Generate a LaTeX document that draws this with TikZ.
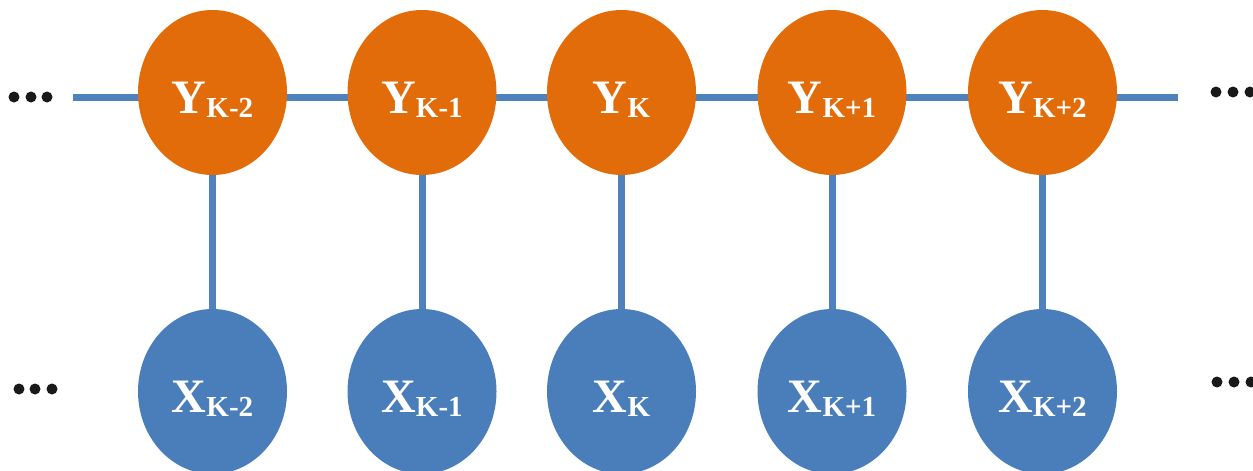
\documentclass[tikz,border=0pt]{standalone}
\usepackage{fontspec}
\setmainfont{Liberation Serif}
\usetikzlibrary{shapes.geometric,calc}
\pgfdeclarelayer{bg}
\pgfsetlayers{bg,main}
\definecolor{yorange}{HTML}{E36C0A}
\definecolor{xblue}{HTML}{4A7EBB}
\definecolor{lineblue}{HTML}{4F81BD}
\newcommand{\lab}[2]{{\fontsize{48}{48}\selectfont\bfseries #1}\raisebox{-4.5pt}{\fontsize{29}{29}\selectfont\bfseries #2}}
\begin{document}
\begin{tikzpicture}[x=1pt,y=-1pt,
  ynode/.style={ellipse,fill=yorange,minimum width=149pt,minimum height=165pt,inner sep=0pt},
  xnode/.style={ellipse,fill=xblue,minimum width=149pt,minimum height=165pt,inner sep=0pt},
  lbl/.style={anchor=base,text=white,inner sep=0pt},
  conn/.style={draw=lineblue,line width=7pt},
  dotc/.style={fill=black!90}]
\useasboundingbox (0,0) rectangle (1253,471);
\foreach \i/\cx in {1/212.5,2/422,3/621.5,4/832,5/1042.5}{
  \node[ynode] (y\i) at (\cx,92.5) {};
  \node[xnode] (x\i) at (\cx,391.5) {};
}
\coordinate (lstart) at (73,97);
\coordinate (lend) at (1178,97);
\begin{pgfonlayer}{bg}
\draw[conn] (lstart) -- (lstart -| y1);
\draw[conn] (lstart -| y1) -- (lstart -| y2);
\draw[conn] (lstart -| y2) -- (lstart -| y3);
\draw[conn] (lstart -| y3) -- (lstart -| y4);
\draw[conn] (lstart -| y4) -- (lstart -| y5);
\draw[conn] (lstart -| y5) -- (lend);
\foreach \i in {1,...,5}{ \draw[conn] (y\i.center) -- (x\i.center); }
\end{pgfonlayer}
\node[lbl] (ly1) at ($(y1)+(0,20.5)$) {\lab{Y}{K-2}};
\node[lbl] (ly2) at ($(y2)+(0,20.5)$) {\lab{Y}{K-1}};
\node[lbl] (ly3) at ($(y3)+(0,20.5)$) {\lab{Y}{K}};
\node[lbl] (ly4) at ($(y4)+(0,20.5)$) {\lab{Y}{K+1}};
\node[lbl] (ly5) at ($(y5)+(0,20.5)$) {\lab{Y}{K+2}};
\node[lbl] (lx1) at ($(x1)+(0,20.5)$) {\lab{X}{K-2}};
\node[lbl] (lx2) at ($(x2)+(0,20.5)$) {\lab{X}{K-1}};
\node[lbl] (lx3) at ($(x3)+(0,20.5)$) {\lab{X}{K}};
\node[lbl] (lx4) at ($(x4)+(0,20.5)$) {\lab{X}{K+1}};
\node[lbl] (lx5) at ($(x5)+(0,20.5)$) {\lab{X}{K+2}};
\foreach \dx in {14,31,47}{ \fill[dotc] (\dx,97) circle (5.5); }
\foreach \dx in {19,35,52}{ \fill[dotc] (\dx,389) circle (5.5); }
\foreach \dx in {1216,1233,1250}{ \fill[dotc] (\dx,92) circle (5.5); }
\foreach \dx in {1217,1234,1251}{ \fill[dotc] (\dx,382) circle (5.5); }
\end{tikzpicture}
\end{document}
